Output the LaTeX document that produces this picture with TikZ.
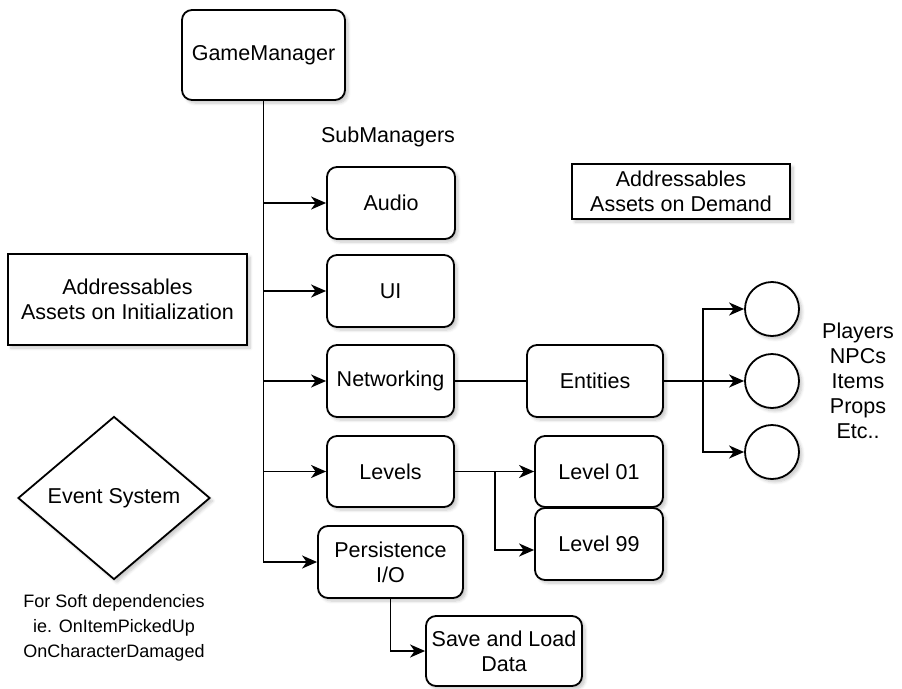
\documentclass[tikz,border=0pt]{standalone}
\usepackage{fontspec}
\setmainfont{Liberation Sans}
\usetikzlibrary{shapes.geometric,arrows.meta,shadows.blur}
\begin{document}
\begin{tikzpicture}[x=1pt,y=-1pt,
  shad/.style={blur shadow={shadow xshift=3pt,shadow yshift=-3pt,shadow opacity=22,shadow blur steps=6,shadow blur radius=3pt}},
  txt/.style={font=\fontsize{21.5}{25}\selectfont,align=center},
  rbox/.style={draw,line width=1.8pt,rounded corners=10pt,fill=white,shad,txt,inner sep=0pt},
  sbox/.style={draw,line width=1.8pt,fill=white,shad,txt,inner sep=0pt},
  circ/.style={draw,circle,line width=1.8pt,fill=white,shad,minimum size=54pt,inner sep=0pt},
  ln/.style={line width=1.8pt},
  arr/.style={line width=1.8pt,-{Stealth[length=15pt,width=13pt,inset=4.5pt]}}]
\useasboundingbox (0,0) rectangle (902,688);

% nodes
\node[rbox,minimum width=163pt,minimum height=90pt] (gm) at (263.5,55) {GameManager};
\node[txt] (sub) at (388,137) {SubManagers};
\node[rbox,minimum width=128pt,minimum height=72pt] (aud) at (391,203) {Audio};
\node[rbox,minimum width=127pt,minimum height=72pt] (ui) at (390.5,291) {UI};
\node[rbox,minimum width=127pt,minimum height=72pt] (net) at (390.5,381) {Networking};
\node[rbox,minimum width=127pt,minimum height=71pt] (lev) at (390.5,471.5) {Levels};
\node[rbox,minimum width=145pt,minimum height=72pt] (per) at (390.5,562) {Persistence\\I/O};
\node[rbox,minimum width=156pt,minimum height=70pt] (save) at (504,651) {Save and Load\\Data};
\node[rbox,minimum width=136pt,minimum height=72pt] (ent) at (595,381) {Entities};
\node[rbox,minimum width=128pt,minimum height=71pt] (l01) at (599,471.5) {Level 01};
\node[rbox,minimum width=128pt,minimum height=72pt] (l99) at (599,544) {Level 99};
\node[circ] (c1) at (772,309) {};
\node[circ] (c2) at (772,381) {};
\node[circ] (c3) at (772,452) {};
\node[txt] (list) at (858,380.5) {Players\\NPCs\\Items\\Props\\Etc..};
\node[sbox,minimum width=218pt,minimum height=55pt] (dem) at (681,191.5) {Addressables\\Assets on Demand};
\node[sbox,minimum width=239pt,minimum height=91pt] (init) at (127.5,299.5) {Addressables\\Assets on Initialization};
\node[draw,diamond,line width=1.8pt,fill=white,shad,txt,minimum width=192pt,minimum height=163pt,inner sep=0pt] (ev) at (114,498) {Event System};
\node[font=\fontsize{18}{25}\selectfont,align=center] (note) at (114,628) {For Soft dependencies\\ie. OnItemPickedUp\\OnCharacterDamaged};

% connectors
\draw[arr] (gm.south) |- (per.west);
\draw[arr] (gm.south |- aud.west) -- (aud.west);
\draw[arr] (gm.south |- ui.west) -- (ui.west);
\draw[arr] (gm.south |- net.west) -- (net.west);
\draw[arr] (gm.south |- lev.west) -- (lev.west);

\draw[ln] (net.east) -- (ent.west);

\coordinate (eb) at (703,381);
\draw[ln] (ent.east) -- (eb);
\draw[arr] (eb) |- (c1.west);
\draw[arr] (eb) -- (c2.west);
\draw[arr] (eb) |- (c3.west);

\coordinate (lb) at (495,471.5);
\draw[arr] (lev.east) -- (l01.west);
\draw[arr] (lb) |- ([yshift=-6pt]l99.west);

\draw[arr] (per.south) |- (save.west);
\end{tikzpicture}
\end{document}
